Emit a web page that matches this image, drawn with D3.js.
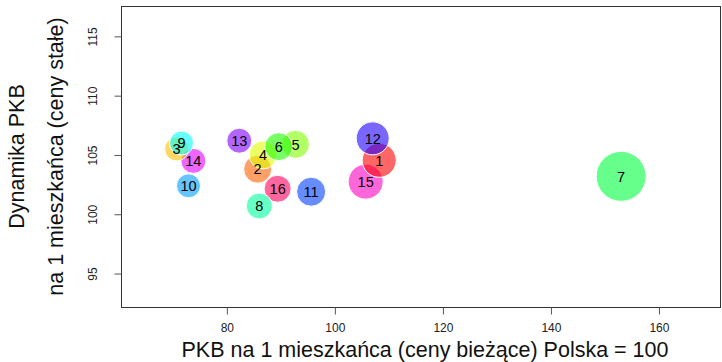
<!DOCTYPE html>
<html>
<head>
<meta charset="utf-8">
<script src="https://cdn.jsdelivr.net/npm/d3@7"></script>
<style>
  html, body { margin: 0; padding: 0; background: #fff; }
  svg { display: block; font-family: "Liberation Sans", Arial, sans-serif; }
</style>
</head>
<body>
<svg id="chart" width="722" height="362"></svg>
<script>
// Data
const labels  = ["1","2","3","4","5","6","7","8","9","10","11","12","13","14","15","16"];
const pkbBiez = [108.2, 85.7, 70.7, 86.7, 92.7, 89.6, 153.0, 86.0, 71.6, 72.9, 95.6, 107.0, 82.3, 73.8, 105.7, 89.4];
const dynamika = [104.55, 103.8, 105.5, 105.0, 105.9, 105.7, 103.2, 100.7, 106.0, 102.4, 101.9, 106.4, 106.2, 104.5, 102.75, 102.15];
const wielkosc = [289, 196, 144, 196, 196, 196, 625, 169, 144, 144, 210, 272, 156, 156, 306, 182];
const xTicks = [80, 100, 120, 140, 160];
const yTicks = [95, 100, 105, 110, 115];
const xTitle = "PKB na 1 mieszkańca (ceny bieżące) Polska = 100";
const yTitle1 = "Dynamika PKB";
const yTitle2 = "na 1 mieszkańca (ceny stałe)";

(function () {
const svg = d3.select("#chart");
const pl = 121, pr = 720, pt = 6, pb = 307;

const x = d3.scaleLinear().domain([60.4, 171.3]).range([pl, pr]);
const y = d3.scaleLinear().domain([92.18, 117.56]).range([pb, pt]);
const r = d3.scaleSqrt().domain([0, 625]).range([0, 25]);

// colours: rainbow hues, alpha 0.6
const colors = labels.map((d, i) => {
  const c = d3.hsl(360 * i / labels.length, 1, 0.5).rgb();
  return `rgba(${Math.round(c.r)},${Math.round(c.g)},${Math.round(c.b)},0.6)`;
});

const data = labels.map((l, i) => ({l, x: pkbBiez[i], y: dynamika[i], s: wielkosc[i], c: colors[i]}));
const ordered = data.slice().sort((a, b) => b.s - a.s);

// bubbles
svg.append("g").selectAll("circle").data(ordered).join("circle")
  .attr("cx", d => x(d.x)).attr("cy", d => y(d.y)).attr("r", d => r(d.s))
  .attr("fill", d => d.c).attr("stroke", "#fff").attr("stroke-width", 1);

// labels
svg.append("g").selectAll("text").data(data).join("text")
  .attr("x", d => x(d.x)).attr("y", d => y(d.y))
  .attr("text-anchor", "middle").attr("dy", "0.36em")
  .attr("font-size", 14.5).attr("fill", "#000")
  .text(d => d.l);

// box
svg.append("rect").attr("x", pl + 0.5).attr("y", pt + 0.5)
  .attr("width", pr - pl).attr("height", pb - pt)
  .attr("fill", "none").attr("stroke", "#333").attr("stroke-width", 1);

// x axis
const xAxis = d3.axisBottom(x).tickValues(xTicks).tickSize(7).tickPadding(9);
const gx = svg.append("g").attr("transform", `translate(0,${pb + 0.5})`).call(xAxis);
gx.select(".domain").remove();
gx.selectAll("line").attr("stroke", "#555");
gx.selectAll("text").attr("font-size", 12).attr("fill", "#222").attr("font-family", "Liberation Sans, Arial, sans-serif");

// y axis
const yAxis = d3.axisLeft(y).tickValues(yTicks).tickSize(7).tickPadding(0);
const gy = svg.append("g").attr("transform", `translate(${pl + 0.5},0)`).call(yAxis);
gy.select(".domain").remove();
gy.selectAll("line").attr("stroke", "#555");
gy.selectAll("text")
  .attr("font-size", 12).attr("fill", "#222").attr("font-family", "Liberation Sans, Arial, sans-serif")
  .attr("x", 0).attr("dy", null).attr("text-anchor", "middle")
  .attr("transform", "translate(-24.5,0) rotate(-90)");

// titles
svg.append("text").attr("x", 425).attr("y", 357)
  .attr("text-anchor", "middle").attr("font-size", 21.5).attr("fill", "#111")
  .text(xTitle);
svg.append("text").attr("transform", `translate(24,${(pt + pb) / 2}) rotate(-90)`)
  .attr("text-anchor", "middle").attr("font-size", 21.5).attr("fill", "#111")
  .text(yTitle1);
svg.append("text").attr("transform", `translate(63,${(pt + pb) / 2}) rotate(-90)`)
  .attr("text-anchor", "middle").attr("font-size", 21.5).attr("fill", "#111")
  .text(yTitle2);
})();
</script>
</body>
</html>
